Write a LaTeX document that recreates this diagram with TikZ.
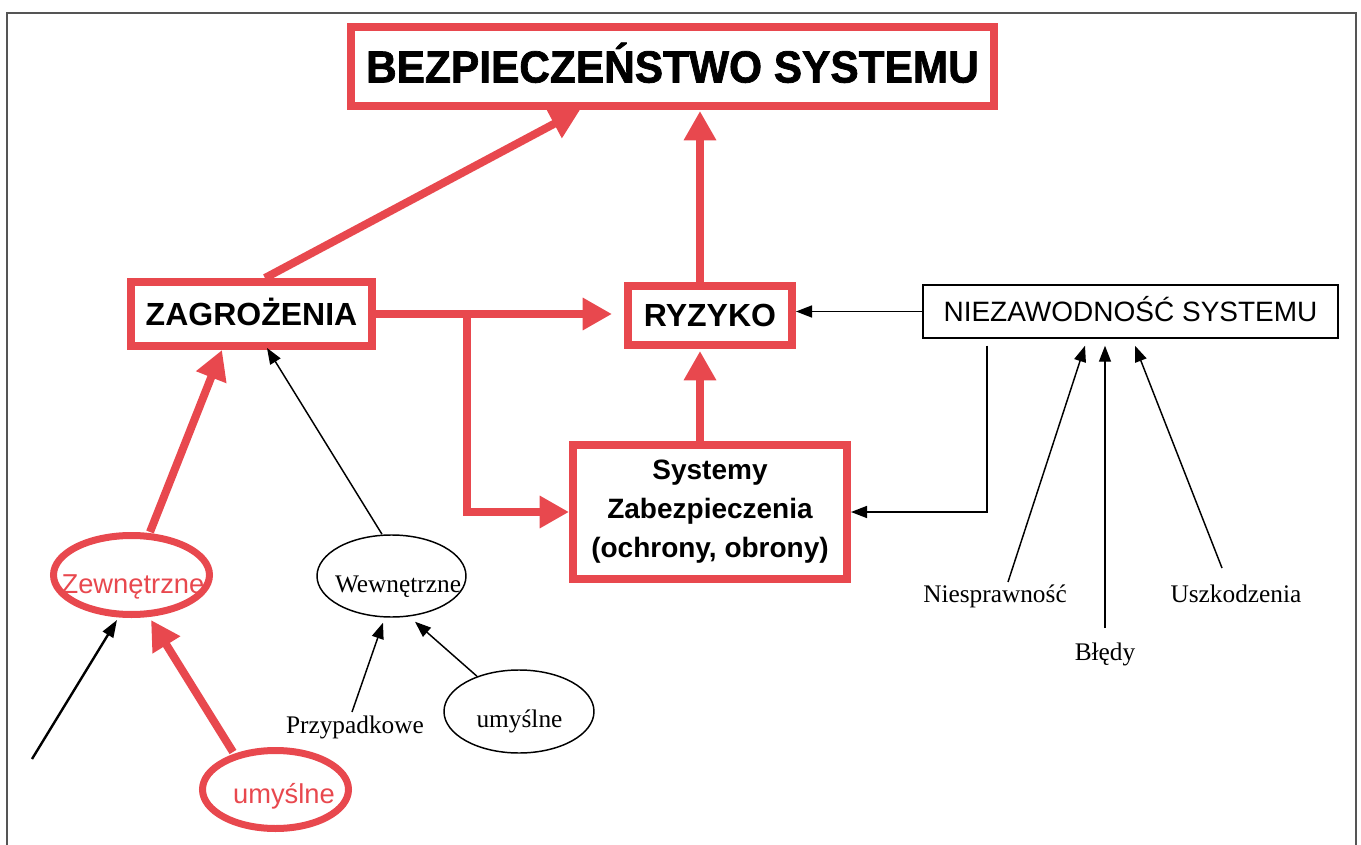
\documentclass[tikz,border=0pt]{standalone}
\usepackage{fontspec}
\setmainfont{Liberation Serif}
\newfontfamily\arial{Liberation Sans}
\newfontfamily\arialheavy[FakeBold=1.6]{Liberation Sans Bold}
\usetikzlibrary{arrows.meta,calc,shapes.geometric}
\definecolor{alarm}{RGB}{232,72,78}
\definecolor{framegray}{RGB}{85,85,85}

\begin{document}
\begin{tikzpicture}[x=0.75pt,y=-0.75pt,
  redbox/.style={draw=alarm, line width=6pt, inner sep=0pt},
  plainbox/.style={draw=black, line width=1.1pt, inner sep=0pt},
  redell/.style={ellipse, draw=alarm, line width=5.25pt, inner sep=0pt},
  plainell/.style={ellipse, draw=black, line width=1.1pt, inner sep=0pt},
  redflow/.style={draw=alarm, line width=6pt, -{Triangle[length=22pt,width=23pt]}},
  thinflow/.style={draw=black, line width=1.1pt, -{Triangle[length=12pt,width=9pt]}},
  serifl/.style={font=\fontsize{19}{22}\selectfont, inner sep=0pt, anchor=base},
  redtxt/.style={font=\arial\fontsize{20.5}{24}\selectfont, text=alarm, inner sep=0pt, anchor=base},
  bigbold/.style={font=\arial\bfseries\fontsize{24}{28}\selectfont, text height=17.2pt, text depth=0pt}
]
\useasboundingbox (0,0) rectangle (1361,845);

% page frame
\draw[framegray, line width=1.3pt] (7,845) -- (7,13) -- (1356,13) -- (1356,845);

% main boxes
\node[redbox, minimum width=482.25pt, minimum height=59.25pt,
      font=\arialheavy\fontsize{31.5}{36}\selectfont, text height=24pt, text depth=0pt]
      (bez) at (672.5,66.5) {\scalebox{1.01}[1.07]{BEZPIECZEŃSTWO SYSTEMU}};
\node[redbox, bigbold, minimum width=180.75pt, minimum height=48pt] (zag) at (251.5,314) {ZAGROŻENIA};
\node[redbox, bigbold, minimum width=123pt, minimum height=44.25pt] (ryz) at (710,315.5) {RYZYKO};
\node[redbox, minimum width=205.5pt, minimum height=100.5pt, align=center,
      font=\arial\bfseries\fontsize{21}{29.25}\selectfont]
      (sys) at (710,512) {Systemy\\Zabezpieczenia\\(ochrony, obrony)};
\node[plainbox, minimum width=311.25pt, minimum height=39.75pt,
      font=\arial\fontsize{21}{24}\selectfont, text height=15pt, text depth=0pt]
      (niez) at (1130.5,311.5) {NIEZAWODNOŚĆ SYSTEMU};

% ellipses
\node[redell, minimum width=117pt, minimum height=59.25pt] (zew) at (131.5,575) {};
\node[redtxt] at (133,593) {Zewnętrzne};
\node[plainell, minimum width=111.75pt, minimum height=61.5pt] (wew) at (391.5,576) {};
\node[serifl] at (398,592) {Wewnętrzne};
\node[plainell, minimum width=112.5pt, minimum height=62.25pt] (umb) at (519,711.5) {};
\node[serifl] at (519.5,727) {umyślne};
\node[redell, minimum width=109.5pt, minimum height=58.5pt] (umr) at (275.5,789.5) {};
\node[redtxt] at (284,803) {umyślne};

% free labels
\node[serifl] (przyp) at (355,733) {Przypadkowe};
\node[serifl] (niesp) at (995,602) {Niesprawność};
\node[serifl] (bled) at (1105,660) {Błędy};
\node[serifl] (uszk) at (1236,602) {Uszkodzenia};
\coordinate (loose) at (32,759);

% red flows
\draw[redflow] ($(zag.north)+(13.5,0)$) -- ($(bez.south)+(-92.5,0)$);
\draw[redflow] ($(ryz.north)+(-10,0)$) -- ($(bez.south)+(27.5,1)$);
\draw[redflow] ($(sys.north)+(-10,0)$) -- ($(ryz.south)+(-10,2)$);
\draw[redflow] (zag.east) -- ($(zag.east -| ryz.west)+(-12,0)$);
\draw[redflow] ($(zag.east)+(91,0)$) |- (sys.west);
\draw[redflow] ($(zew.north)+(18.5,0)$) -- ($(zag.south)+(-29.5,0)$);
\draw[redflow] ($(umr.north)+(-42.5,5)$) -- ($(zew.south)+(19.5,2)$);

% black flows
\draw[draw=black, line width=1.8pt, -{Triangle[length=13pt,width=9pt]}]
      (loose) -- ($(zew.south)+(-14.5,2)$);
\draw[thinflow] ($(wew.north)+(-9.5,0)$) -- ($(zag.south)+(15.5,-2)$);
\draw[thinflow] ($(przyp.base)+(-3,-21)$) -- ($(wew.south)+(-8.5,5)$);
\draw[thinflow] ($(umb.north)+(-42,7)$) -- ($(wew.south)+(23.5,4)$);
\draw[thinflow] (niez.west) -- (niez.west -| ryz.east);
\draw[thinflow] ($(niez.south)+(-143.5,7)$) |- (sys.east);
\draw[thinflow] ($(niesp.base)+(13,-20)$) -- ($(niez.south)+(-45.5,7)$);
\draw[thinflow] ($(bled.base)+(0,-32)$) -- ($(niez.south)+(-25.5,7)$);
\draw[thinflow] ($(uszk.base)+(-14,-34)$) -- ($(niez.south)+(4.5,7)$);
\end{tikzpicture}
\end{document}
